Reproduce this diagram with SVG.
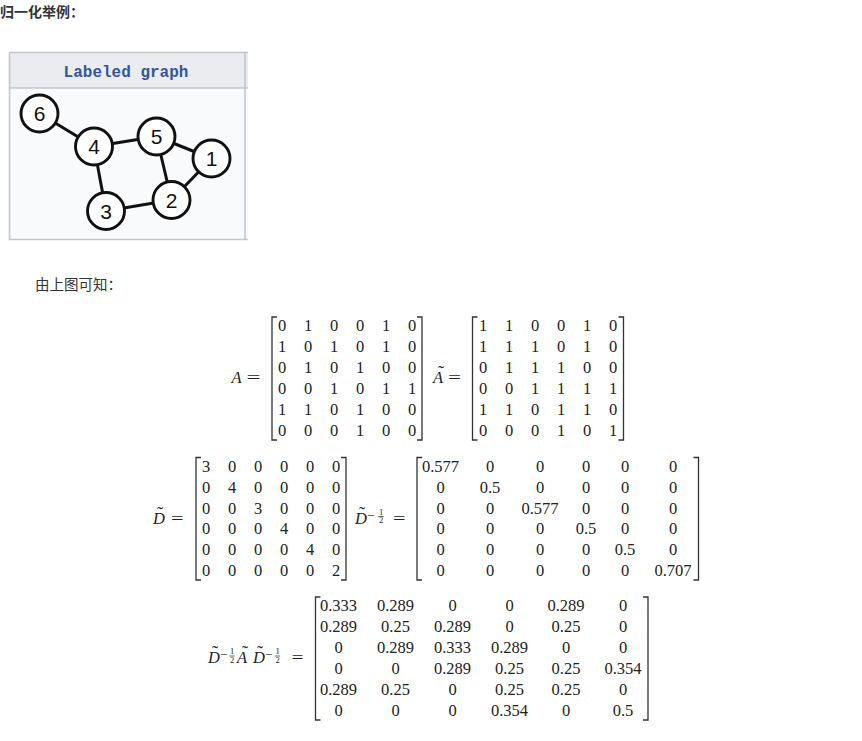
<svg xmlns="http://www.w3.org/2000/svg" width="862" height="741" viewBox="0 0 862 741">
<style>
.cjk{font-family:"Noto Sans CJK SC","Noto Sans",sans-serif;fill:#333}
.m{font-family:"Liberation Serif",serif;font-size:16.5px;fill:#222;text-anchor:middle}
.mi{font-family:"Liberation Serif",serif;font-style:italic;font-size:16.5px;fill:#222}
.eq{font-family:"Liberation Serif",serif;font-size:16.5px;fill:#222}
.til{font-family:"Liberation Serif",serif;font-size:18px;fill:#222;text-anchor:middle}
.sup{font-family:"Liberation Serif",serif;font-size:13px;fill:#222}
.fr{font-family:"Liberation Serif",serif;font-size:8.5px;fill:#222;text-anchor:middle}
.bar{stroke:#222;stroke-width:0.7}
.br{stroke:#333;stroke-width:1.3;fill:none}
.edge{stroke:#111;stroke-width:3;fill:none}
.node circle{fill:#fff;stroke:#111;stroke-width:2.9}
.node text{font-family:"Liberation Sans",Arial,sans-serif;font-size:21px;fill:#111;text-anchor:middle}
</style>
<rect width="862" height="741" fill="#fff"/>
<text class="cjk" x="0" y="17" font-size="14" font-weight="bold" fill="#222">归一化举例：</text>

<g id="graph-box">
<rect x="9" y="52.5" width="239" height="187" fill="#f9fafb"/>
<rect x="9" y="52.5" width="239" height="35.5" fill="#eaecf0"/>
<path d="M248,52.5 H9.5 V239.5 H248 M9,88 H248 M245,52.5 V239.5" stroke="#c2c6cb" stroke-width="1.6" fill="none"/>
<text x="126" y="77" text-anchor="middle" font-family="Liberation Mono,monospace" font-weight="bold" font-size="16px" fill="#34569a">Labeled graph</text>
</g>

<g id="edges">
<line class="edge" x1="39.5" y1="113.5" x2="94" y2="146.5"/>
<line class="edge" x1="94" y1="146.5" x2="156.5" y2="136.5"/>
<line class="edge" x1="156.5" y1="136.5" x2="211.5" y2="158.5"/>
<line class="edge" x1="156.5" y1="136.5" x2="171.5" y2="200"/>
<line class="edge" x1="211.5" y1="158.5" x2="171.5" y2="200"/>
<line class="edge" x1="94" y1="146.5" x2="106" y2="211"/>
<line class="edge" x1="106" y1="211" x2="171.5" y2="200"/>
</g>
<g id="node6" class="node"><circle cx="39.5" cy="113.5" r="18.5"/><text x="39.5" y="121">6</text></g>
<g id="node4" class="node"><circle cx="94" cy="146.5" r="18.5"/><text x="94" y="154">4</text></g>
<g id="node5" class="node"><circle cx="156.5" cy="136.5" r="18.5"/><text x="156.5" y="144">5</text></g>
<g id="node1" class="node"><circle cx="211.5" cy="158.5" r="18.5"/><text x="211.5" y="166">1</text></g>
<g id="node2" class="node"><circle cx="171.5" cy="200" r="18.5"/><text x="171.5" y="207.5">2</text></g>
<g id="node3" class="node"><circle cx="106" cy="211" r="18.5"/><text x="106" y="218.5">3</text></g>

<text class="cjk" x="35" y="290" font-size="14.5">由上图可知：</text>

<!-- A -->
<g id="matA">
<text class="mi" x="231.5" y="383">A</text>
<text class="eq" x="246.5" y="383" textLength="14" lengthAdjust="spacingAndGlyphs">=</text>
<path class="br" d="M277,317 H272 V440 H277"/>
<path class="br" d="M417,317 H422 V440 H417"/>
<text class="m" y="330.5" x="282 308 334 360 386 412">010010</text>
<text class="m" y="351.5" x="282 308 334 360 386 412">101010</text>
<text class="m" y="372.5" x="282 308 334 360 386 412">010100</text>
<text class="m" y="393.5" x="282 308 334 360 386 412">001011</text>
<text class="m" y="414.5" x="282 308 334 360 386 412">110100</text>
<text class="m" y="435.5" x="282 308 334 360 386 412">000100</text>
</g>

<!-- A tilde -->
<g id="matAt">
<text class="mi" x="433" y="383">A</text>
<text class="til" x="441" y="379">˜</text>
<text class="eq" x="448" y="383" textLength="13" lengthAdjust="spacingAndGlyphs">=</text>
<path class="br" d="M477.5,317 H472.5 V440 H477.5"/>
<path class="br" d="M618.5,317 H623.5 V440 H618.5"/>
<text class="m" y="330.5" x="483 509 535 561 587 613">110010</text>
<text class="m" y="351.5" x="483 509 535 561 587 613">111010</text>
<text class="m" y="372.5" x="483 509 535 561 587 613">011100</text>
<text class="m" y="393.5" x="483 509 535 561 587 613">001111</text>
<text class="m" y="414.5" x="483 509 535 561 587 613">110110</text>
<text class="m" y="435.5" x="483 509 535 561 587 613">000101</text>
</g>

<!-- D tilde -->
<g id="matD">
<text class="mi" x="153" y="523.5">D</text>
<text class="til" x="160" y="519.5">˜</text>
<text class="eq" x="171" y="523.5" textLength="12.5" lengthAdjust="spacingAndGlyphs">=</text>
<path class="br" d="M201,457.5 H196 V580 H201"/>
<path class="br" d="M341,457.5 H346 V580 H341"/>
<text class="m" y="472" x="206 232 258 284 310 336">300000</text>
<text class="m" y="493" x="206 232 258 284 310 336">040000</text>
<text class="m" y="513.5" x="206 232 258 284 310 336">003000</text>
<text class="m" y="534" x="206 232 258 284 310 336">000400</text>
<text class="m" y="554.5" x="206 232 258 284 310 336">000040</text>
<text class="m" y="575.5" x="206 232 258 284 310 336">000002</text>
</g>

<!-- D^-1/2 -->
<g id="matDinv">
<text class="mi" x="355" y="523.5">D</text>
<text class="til" x="362" y="519.5">˜</text>
<text class="sup" x="367" y="519.5">−</text>
<text class="fr" x="381" y="514.5">1</text>
<line class="bar" x1="378.3" y1="516.5" x2="383.7" y2="516.5"/>
<text class="fr" x="381" y="523">2</text>
<text class="eq" x="393" y="523.5" textLength="12.5" lengthAdjust="spacingAndGlyphs">=</text>
<path class="br" d="M422,457.5 H417 V580 H422"/>
<path class="br" d="M693.5,457.5 H698.5 V580 H693.5"/>
<text class="m" y="472"><tspan x="440.5">0.577</tspan><tspan x="490">0</tspan><tspan x="540">0</tspan><tspan x="586">0</tspan><tspan x="625">0</tspan><tspan x="673">0</tspan></text>
<text class="m" y="493"><tspan x="440.5">0</tspan><tspan x="490">0.5</tspan><tspan x="540">0</tspan><tspan x="586">0</tspan><tspan x="625">0</tspan><tspan x="673">0</tspan></text>
<text class="m" y="513.5"><tspan x="440.5">0</tspan><tspan x="490">0</tspan><tspan x="540">0.577</tspan><tspan x="586">0</tspan><tspan x="625">0</tspan><tspan x="673">0</tspan></text>
<text class="m" y="534"><tspan x="440.5">0</tspan><tspan x="490">0</tspan><tspan x="540">0</tspan><tspan x="586">0.5</tspan><tspan x="625">0</tspan><tspan x="673">0</tspan></text>
<text class="m" y="554.5"><tspan x="440.5">0</tspan><tspan x="490">0</tspan><tspan x="540">0</tspan><tspan x="586">0</tspan><tspan x="625">0.5</tspan><tspan x="673">0</tspan></text>
<text class="m" y="575.5"><tspan x="440.5">0</tspan><tspan x="490">0</tspan><tspan x="540">0</tspan><tspan x="586">0</tspan><tspan x="625">0</tspan><tspan x="673">0.707</tspan></text>
</g>

<!-- normalized -->
<g id="matNorm">
<text class="mi" x="208" y="663">D</text>
<text class="til" x="215" y="659">˜</text>
<text class="sup" x="220" y="659">−</text>
<text class="fr" x="232" y="654">1</text>
<line class="bar" x1="229.3" y1="656" x2="234.7" y2="656"/>
<text class="fr" x="232" y="662.5">2</text>
<text class="mi" x="237" y="663">A</text>
<text class="til" x="245" y="659">˜</text>
<text class="mi" x="253" y="663">D</text>
<text class="til" x="260" y="659">˜</text>
<text class="sup" x="265" y="659">−</text>
<text class="fr" x="277.5" y="654">1</text>
<line class="bar" x1="274.8" y1="656" x2="280.2" y2="656"/>
<text class="fr" x="277.5" y="662.5">2</text>
<text class="eq" x="291.5" y="663" textLength="12" lengthAdjust="spacingAndGlyphs">=</text>
<path class="br" d="M320.5,597 H315.5 V720 H320.5"/>
<path class="br" d="M643,597 H648 V720 H643"/>
<text class="m" y="610.5"><tspan x="338.5">0.333</tspan><tspan x="395.5">0.289</tspan><tspan x="452.5">0</tspan><tspan x="509.5">0</tspan><tspan x="566">0.289</tspan><tspan x="623">0</tspan></text>
<text class="m" y="631.5"><tspan x="338.5">0.289</tspan><tspan x="395.5">0.25</tspan><tspan x="452.5">0.289</tspan><tspan x="509.5">0</tspan><tspan x="566">0.25</tspan><tspan x="623">0</tspan></text>
<text class="m" y="652.5"><tspan x="338.5">0</tspan><tspan x="395.5">0.289</tspan><tspan x="452.5">0.333</tspan><tspan x="509.5">0.289</tspan><tspan x="566">0</tspan><tspan x="623">0</tspan></text>
<text class="m" y="673.5"><tspan x="338.5">0</tspan><tspan x="395.5">0</tspan><tspan x="452.5">0.289</tspan><tspan x="509.5">0.25</tspan><tspan x="566">0.25</tspan><tspan x="623">0.354</tspan></text>
<text class="m" y="694.5"><tspan x="338.5">0.289</tspan><tspan x="395.5">0.25</tspan><tspan x="452.5">0</tspan><tspan x="509.5">0.25</tspan><tspan x="566">0.25</tspan><tspan x="623">0</tspan></text>
<text class="m" y="715.5"><tspan x="338.5">0</tspan><tspan x="395.5">0</tspan><tspan x="452.5">0</tspan><tspan x="509.5">0.354</tspan><tspan x="566">0</tspan><tspan x="623">0.5</tspan></text>
</g>
</svg>
